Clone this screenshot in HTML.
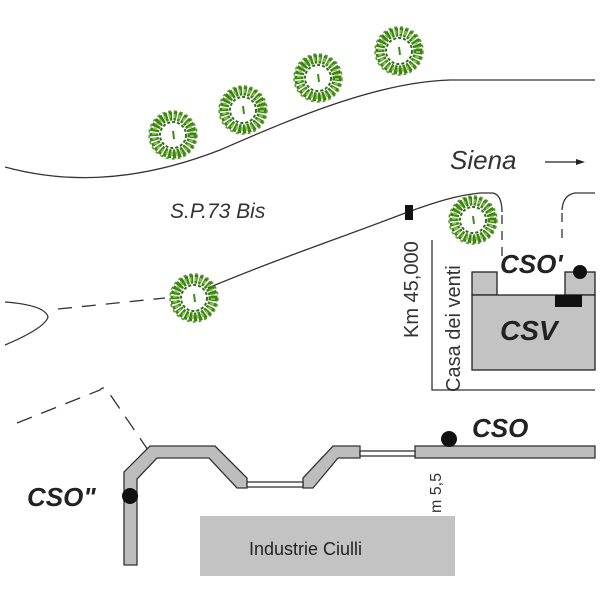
<!DOCTYPE html>
<html><head><style>body{margin:0;background:#fff}svg{display:block}</style></head><body>
<svg width="600" height="600" viewBox="0 0 600 600" xmlns="http://www.w3.org/2000/svg">
<defs>
<g id="tree">
<circle r="19" fill="none" stroke="#3f7f1c" stroke-width="9" stroke-dasharray="3 1.5"/>
<circle r="19" fill="none" stroke="#8bc94a" stroke-width="4" stroke-dasharray="2 3"/>
<circle r="13" fill="none" stroke="#2f6f14" stroke-width="2" stroke-dasharray="3 2"/>
<circle r="24" fill="none" stroke="#5a9e2c" stroke-width="1.5" stroke-dasharray="3 3"/>
<path d="M0,-4 L1,4" stroke="#3f8a1f" stroke-width="2"/>
</g>
</defs>
<g fill="none" stroke="#333" stroke-width="1.3">
<path d="M5,167 C60,182 130,185 220,150 C300,115 380,82 450,80 L595,80"/>
<path d="M208,288 C280,258 340,238 400,215 C440,200 460,195 480,193 L493,193 Q502,195 502,212"/>
<path d="M595,193 L575,193 Q563,195 562,210"/>
<path d="M502,215 L502,262 M562,213 L562,242" stroke-dasharray="9 7"/>
<path d="M5,302 Q45,305 48,317 Q45,328 5,345"/>
<path d="M58,309 L165,298" stroke-dasharray="14 10"/>
<path d="M17,423 L100,390 Q103,386 107,390 L148,450" stroke-dasharray="16 10"/>
<path d="M432,240 L432,390 L595,390"/>
</g>
<use href="#tree" x="173" y="135"/>
<use href="#tree" x="243" y="110"/>
<use href="#tree" x="318" y="78"/>
<use href="#tree" x="399" y="51"/>
<use href="#tree" x="473" y="220"/>
<use href="#tree" x="194" y="298"/>
<rect x="405" y="205" width="8" height="15" fill="#111"/>
<rect x="472" y="272" width="25" height="23" fill="#c3c3c3" stroke="#222" stroke-width="1.3"/>
<rect x="565" y="272" width="30" height="23" fill="#c3c3c3" stroke="#222" stroke-width="1.3"/>
<rect x="472" y="295" width="123" height="75" fill="#c3c3c3" stroke="#222" stroke-width="1.3"/>
<rect x="555" y="295" width="27" height="12" fill="#111"/>
<circle cx="580" cy="272" r="7" fill="#111"/>
<g fill="#bdbdbd" stroke="#333" stroke-width="1.3">
<polygon points="124,565 124,472 150,446 215,446 247,478 247,488 237,488 209,458 157,458 137,479 137,565"/>
<polygon points="303,488 303,478 333,446 360,446 360,458 338,458 313,488"/>
<rect x="415" y="446" width="180" height="12"/>
<rect x="247" y="482" width="56" height="5" fill="#fff"/>
<rect x="360" y="451" width="55" height="5" fill="#fff"/>
</g>
<circle cx="449" cy="439" r="8" fill="#111"/>
<circle cx="130" cy="496" r="8" fill="#111"/>
<rect x="200" y="516" width="255" height="60" fill="#c3c3c3"/>
<g font-family="Liberation Sans, sans-serif" fill="#222">
<text x="450" y="169" font-size="26" font-style="italic" fill="#333">Siena</text>
<path d="M545,162 L582,162" stroke="#222" stroke-width="1.3"/><path d="M576,159 L585,162 L576,165Z" fill="#222"/>
<text x="170" y="218" font-size="21" font-style="italic" fill="#333">S.P.73 Bis</text>
<text transform="translate(418,338) rotate(-90)" font-size="20" fill="#333">Km 45,000</text>
<text transform="translate(460,392) rotate(-90)" font-size="20" fill="#333">Casa dei venti</text>
<text x="500" y="273" font-size="26" font-weight="bold" font-style="italic">CSO'</text>
<text x="500" y="340" font-size="28" font-weight="bold" font-style="italic">CSV</text>
<text x="472" y="437" font-size="26" font-weight="bold" font-style="italic">CSO</text>
<text x="27" y="506" font-size="26" font-weight="bold" font-style="italic">CSO"</text>
<text transform="translate(441,513) rotate(-90)" font-size="16" fill="#333">m 5,5</text>
<text x="249" y="555" font-size="18">Industrie Ciulli</text>
</g>
</svg>
</body></html>
